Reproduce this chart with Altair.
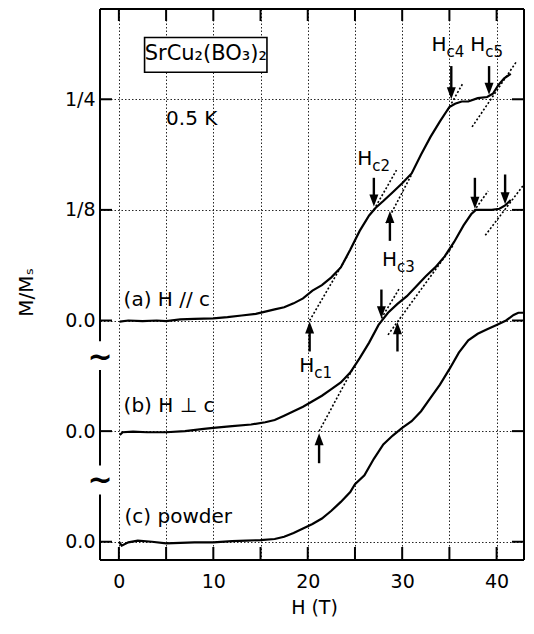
import altair as alt
import pandas as pd

FONT = "DejaVu Sans"

# ---------------- data (M in units of 1/8 Ms, relative to each curve's own baseline) -------------
H_a = [0.1, 1.0, 2.5, 4.0, 5.0, 6.5, 8.0, 10.0, 11.5, 13.0, 14.5, 15.5, 16.5, 17.5, 18.5, 19.5, 20.5,
       21.5, 22.5, 23.5, 24.5, 25.5, 26.5, 27.2, 28.0, 29.0, 30.0, 31.0, 32.0, 33.0, 34.0, 35.0, 35.6,
       36.3, 37.0, 38.0, 39.0, 39.6, 40.2, 40.8, 41.5]
M_a = [-0.01, 0.0, -0.005, 0.0, -0.005, 0.01, 0.015, 0.02, 0.03, 0.045, 0.06, 0.08, 0.10, 0.12, 0.155,
       0.20, 0.27, 0.32, 0.39, 0.48, 0.64, 0.81, 0.95, 1.02, 1.08, 1.16, 1.24, 1.33, 1.50, 1.66, 1.80,
       1.93, 1.96, 1.98, 1.98, 2.01, 2.02, 2.05, 2.13, 2.19, 2.23]

H_b = [0.1, 0.4, 1.5, 3.0, 5.0, 7.0, 9.0, 10.0, 12.0, 14.0, 15.5, 16.5, 17.5, 18.5, 19.5, 20.5, 21.5,
       22.5, 23.5, 24.5, 25.5, 26.5, 27.5, 28.5, 29.5, 30.5, 31.5, 32.5, 33.5, 34.5, 35.5, 36.5, 37.3,
       37.8, 38.5, 39.5, 40.3, 40.9, 41.5]
M_b = [-0.035, -0.01, -0.005, -0.01, -0.01, 0.0, 0.02, 0.03, 0.045, 0.06, 0.08, 0.10, 0.14, 0.18, 0.22,
       0.27, 0.32, 0.38, 0.44, 0.53, 0.66, 0.80, 0.96, 1.07, 1.15, 1.22, 1.31, 1.40, 1.48, 1.58, 1.71,
       1.86, 1.96, 2.0, 2.0, 2.0, 2.01, 2.04, 2.09]

H_c = [0.0, 0.3, 1.0, 2.0, 3.5, 5.0, 6.5, 8.0, 10.0, 12.0, 13.5, 15.0, 16.5, 17.5, 18.5, 19.5, 20.5,
       21.5, 22.5, 23.5, 24.5, 25.0, 26.0, 27.0, 28.0, 29.0, 30.0, 31.0, 32.0, 33.0, 34.0, 35.0, 36.0,
       37.0, 38.0, 39.0, 40.0, 41.0, 41.8, 42.3, 42.8]
M_c = [0.0, -0.035, -0.005, 0.01, 0.0, -0.015, -0.01, -0.005, -0.005, 0.005, 0.01, 0.015, 0.025, 0.045,
       0.08, 0.12, 0.16, 0.21, 0.28, 0.36, 0.45, 0.52, 0.60, 0.75, 0.88, 0.96, 1.03, 1.09, 1.18, 1.30,
       1.42, 1.56, 1.71, 1.82, 1.88, 1.92, 1.96, 2.0, 2.05, 2.07, 2.07]

CURVE_OFFSETS = {"a": 2, "b": 1, "c": 0}

# dotted tangent lines (plot units)
TAN_H0 = [20.2, 27.0, 28.3, 34.8, 37.4, 21.2, 27.8, 28.5, 37.6, 38.8]
TAN_Y0 = [2.0, 3.0, 2.88, 3.90, 3.75, 1.0, 2.02, 1.87, 2.99, 2.77]
TAN_H1 = [24.3, 29.4, 31.0, 36.4, 42.1, 25.0, 29.7, 35.4, 39.1, 42.9]
TAN_Y1 = [2.60, 3.36, 3.32, 4.14, 4.34, 1.60, 2.29, 2.68, 3.17, 3.23]

# arrows marking critical fields
ARR_H = [20.2, 27.0, 28.7, 35.2, 39.2, 21.2, 27.8, 29.5, 37.7, 40.9]
ARR_TAIL = [1.72, 3.29, 2.72, 4.30, 4.30, 0.71, 2.28, 1.72, 3.29, 3.32]
ARR_HEAD = [1.99, 3.03, 2.99, 4.00, 4.04, 0.98, 2.02, 1.985, 3.01, 3.05]

# H_c labels
HC_H = [19.1, 25.25, 27.85, 33.1, 37.2]
HC_Y = [1.585, 3.46, 2.544, 4.493, 4.493]
HC_SUB = ["c1", "c2", "c3", "c4", "c5"]

# text annotations
TXT_H = [0.5, 0.5, 0.6, 5.0]
TXT_Y = [2.184, 1.228, 0.221, 3.818]
TXT_S = ["(a) H // c", "(b) H \u22a5 c", "(c) powder", "0.5 K"]

X_TICKS = [0, 5, 10, 15, 20, 25, 30, 35, 40]
Y_TICKS = [0, 1, 2, 3, 4]
Y_LABELS = ["0.0", "0.0", "0.0", "1/8", "1/4"]
X_DOMAIN = [-2.0, 42.9]
Y_DOMAIN = [-0.165, 4.816]
BREAKS = [1.682, 0.566]
FRAME_SEGS = [(4.816, 1.813), (1.552, 0.689), (0.428, -0.165)]
BOX = (2.72, 15.68, 4.244, 4.558)

W, Hh = 424, 551

# ---------------- tables ----------------
rows = []
for name, hs, ms in [("a", H_a, M_a), ("b", H_b, M_b), ("c", H_c, M_c)]:
    for i, (h, m) in enumerate(zip(hs, ms)):
        rows.append({"curve": name, "order": i, "H": h, "y": m + CURVE_OFFSETS[name]})
curves = pd.DataFrame(rows)

trows = []
for i in range(len(TAN_H0)):
    trows.append({"seg": i, "order": 0, "H": TAN_H0[i], "y": TAN_Y0[i]})
    trows.append({"seg": i, "order": 1, "H": TAN_H1[i], "y": TAN_Y1[i]})
tans = pd.DataFrame(trows)

arr = pd.DataFrame({"H": ARR_H, "tail": ARR_TAIL, "head": ARR_HEAD})
arr["up"] = arr["head"] > arr["tail"]
arr["shaft_end"] = arr["head"] - (arr["head"] - arr["tail"]).apply(lambda d: 0.07 if d > 0 else -0.07)

hc = pd.DataFrame({"H": HC_H, "y": HC_Y, "sub": HC_SUB})
txt = pd.DataFrame({"H": TXT_H, "y": TXT_Y, "t": TXT_S})
xt = pd.DataFrame({"H": X_TICKS})
yt = pd.DataFrame({"y": Y_TICKS})
brk = pd.DataFrame({"H": [X_DOMAIN[0]] * len(BREAKS), "y": BREAKS})
frame = pd.DataFrame({"H": [X_DOMAIN[0]] * len(FRAME_SEGS),
                      "y": [s[0] for s in FRAME_SEGS], "y2": [s[1] for s in FRAME_SEGS]})
box = pd.DataFrame({"H": [BOX[0]], "H2": [BOX[1]], "y": [BOX[2]], "y2": [BOX[3]]})
boxtxt = pd.DataFrame({"H": [(BOX[0] + BOX[1]) / 2], "y": [(BOX[2] + BOX[3]) / 2 + 0.005],
                       "t": ["SrCu\u2082(BO\u2083)\u2082"]})

xs = alt.Scale(domain=X_DOMAIN, nice=False, zero=False)
ys = alt.Scale(domain=Y_DOMAIN, nice=False, zero=False)

ylab_expr = " : ".join(
    [f"datum.value == {v} ? '{l}'" for v, l in zip(Y_TICKS, Y_LABELS)]) + " : ''"

x_axis = alt.Axis(values=X_TICKS, grid=True, gridDash=[1.5, 2], gridColor="black", gridWidth=1,
                  gridOpacity=0.85, ticks=False, domain=False,
                  labelExpr="datum.value % 10 === 0 ? datum.label : ''",
                  labelFontSize=19, labelPadding=12, labelOverlap=False, labelFlush=False,
                  title="H (T)", titleFontSize=19, titleFontWeight="normal",
                  titleX=214, titleY=47, titleBaseline="middle", titleAlign="center")
y_axis = alt.Axis(values=Y_TICKS, grid=True, gridDash=[1.5, 2], gridColor="black", gridWidth=1,
                  gridOpacity=0.85, ticks=False, domain=False, labelExpr=ylab_expr,
                  labelFontSize=19, labelPadding=5, labelOverlap=False, labelFlush=False,
                  title="M/M\u209b", titleFontSize=20, titleFontWeight="normal", titleAngle=270,
                  titleX=-74, titleY=283, titleBaseline="middle", titleAlign="center")


def X(field="H:Q"):
    return alt.X(field, scale=xs, axis=x_axis)


def Y(field="y:Q"):
    return alt.Y(field, scale=ys, axis=y_axis)


lines = alt.Chart(curves).mark_line(color="black", strokeWidth=2.2).encode(
    x=X(), y=Y(), detail="curve:N", order="order:Q")

tan_layer = alt.Chart(tans).mark_line(color="black", strokeWidth=1.6, strokeDash=[2, 2]).encode(
    x=X(), y=Y(), detail="seg:N", order="order:Q")

shafts = alt.Chart(arr).mark_rule(color="black", strokeWidth=2.4).encode(
    x=X(), y=Y("tail:Q"), y2="shaft_end:Q")
heads_up = alt.Chart(arr[arr["up"]]).mark_point(
    shape="M-0.75,2L0.75,2L0,0Z", filled=True, size=144, color="black", opacity=1, strokeWidth=0
).encode(x=X(), y=Y("head:Q"))
heads_dn = alt.Chart(arr[~arr["up"]]).mark_point(
    shape="M-0.75,-2L0.75,-2L0,0Z", filled=True, size=144, color="black", opacity=1, strokeWidth=0
).encode(x=X(), y=Y("head:Q"))

hc_main = alt.Chart(hc).mark_text(text="H", align="left", baseline="middle", fontSize=20,
                                  color="black").encode(x=X(), y=Y())
hc_sub = alt.Chart(hc).mark_text(align="left", baseline="middle", fontSize=15, dx=15, dy=7,
                                 color="black").encode(x=X(), y=Y(), text="sub:N")

labels = alt.Chart(txt).mark_text(align="left", baseline="middle", fontSize=20, color="black").encode(
    x=X(), y=Y(), text="t:N")

box_rect = alt.Chart(box).mark_rect(fill="white", stroke="black", strokeWidth=1.6).encode(
    x=X(), x2="H2:Q", y=Y(), y2="y2:Q")
box_text = alt.Chart(boxtxt).mark_text(align="center", baseline="middle", fontSize=21,
                                       color="black").encode(x=X(), y=Y(), text="t:N")

# frame and inward ticks
frame_top = alt.Chart(xt).mark_rule(color="black", strokeWidth=2).encode(
    x=alt.value(0), x2=alt.value(W), y=alt.value(0))
frame_bot = alt.Chart(xt).mark_rule(color="black", strokeWidth=2).encode(
    x=alt.value(0), x2=alt.value(W), y=alt.value(Hh))
frame_right = alt.Chart(xt).mark_rule(color="black", strokeWidth=2).encode(
    x=alt.value(W), y=alt.value(0), y2=alt.value(Hh))
frame_left = alt.Chart(frame).mark_rule(color="black", strokeWidth=2).encode(
    x=X(), y=Y(), y2="y2:Q")
xtick_b = alt.Chart(xt).mark_rule(color="black", strokeWidth=2).encode(
    x=X(), y=alt.value(Hh), y2=alt.value(Hh - 13))
xtick_t = alt.Chart(xt).mark_rule(color="black", strokeWidth=2).encode(
    x=X(), y=alt.value(0), y2=alt.value(12))
ytick_l = alt.Chart(yt).mark_rule(color="black", strokeWidth=2).encode(
    y=Y(), x=alt.value(0), x2=alt.value(12))
ytick_r = alt.Chart(yt).mark_rule(color="black", strokeWidth=2).encode(
    y=Y(), x=alt.value(W), x2=alt.value(W - 12))
breaks = alt.Chart(brk).mark_text(text="~", align="center", baseline="middle", fontSize=30,
                                  fontWeight="bold", color="black", dy=2).encode(x=X(), y=Y())

chart = alt.layer(
    lines, tan_layer, box_rect, box_text, labels, hc_main, hc_sub, shafts, heads_up, heads_dn,
    frame_top, frame_bot, frame_right, frame_left, xtick_b, xtick_t, ytick_l, ytick_r, breaks
).properties(
    width=W, height=Hh,
    autosize=alt.AutoSizeParams(type="none"),
    padding={"left": 92, "top": 1, "right": 1, "bottom": 60},
).configure_view(strokeWidth=0).configure_axis(
    labelFont=FONT, titleFont=FONT, labelColor="black", titleColor="black"
).configure_text(font=FONT)

chart.save("out.html", embed_options={"renderer": "svg", "actions": False})
